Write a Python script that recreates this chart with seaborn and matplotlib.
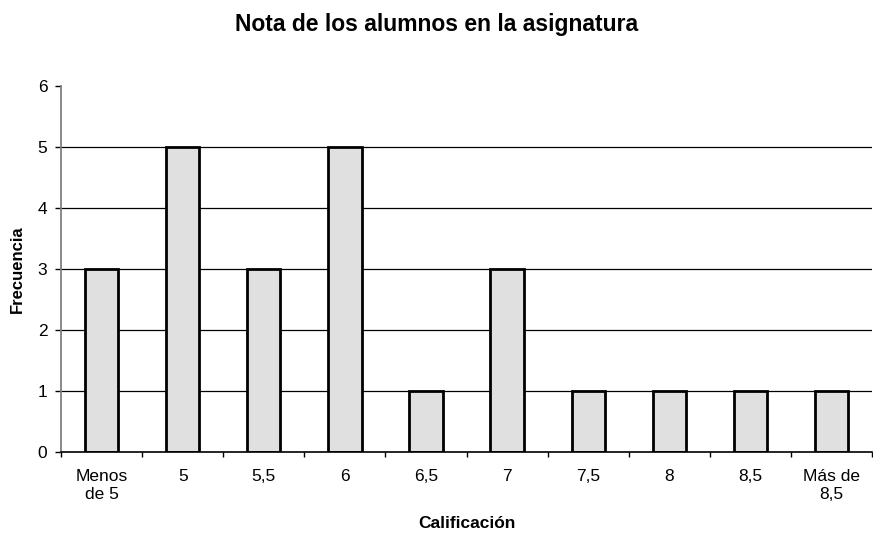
import pandas as pd
import numpy as np
import seaborn as sns
import matplotlib.pyplot as plt
import matplotlib as mpl

mpl.rcParams['font.family'] = 'sans-serif'
mpl.rcParams['font.sans-serif'] = ['Liberation Sans', 'DejaVu Sans']

categorias = ['Menos\nde 5', '5', '5,5', '6', '6,5', '7', '7,5', '8', '8,5', 'Más de\n8,5']
frecuencia = [3, 5, 3, 5, 1, 3, 1, 1, 1, 1]
yticks = [0, 1, 2, 3, 4, 5, 6]

df = pd.DataFrame({'cat': categorias, 'freq': frecuencia})

fig = plt.figure(figsize=(8.73, 5.41), dpi=100)
ax = fig.add_axes([0.0699, 0.1645, 0.9290, 0.6765])

# horizontal grid lines (none at the top)
for y in yticks[1:-1]:
    ax.axhline(y, color='black', lw=0.9, zorder=0)

sns.barplot(data=df, x='cat', y='freq', order=categorias, color='#e0e0e0',
            edgecolor='black', linewidth=2, width=0.41, saturation=1, ax=ax, zorder=2)

ax.set_ylim(0, 6)
ax.set_xlim(-0.5, len(categorias) - 0.5)
ax.set_yticks(yticks)
ax.tick_params(axis='y', length=4.3, width=1, labelsize=12.5, pad=5.5)
ax.tick_params(axis='x', which='major', length=0, labelsize=12.5, pad=12)
for lab in ax.get_xticklabels():
    lab.set_linespacing(1.3)
ax.set_xticks(np.arange(-0.5, len(categorias), 1), minor=True)
ax.tick_params(axis='x', which='minor', length=3.6, width=1, direction='out')

for s in ['top', 'right']:
    ax.spines[s].set_visible(False)
ax.spines['left'].set_color('#808080')
ax.spines['left'].set_linewidth(1.3)
ax.spines['bottom'].set_linewidth(1.2)

ax.set_xlabel('Calificación', fontsize=12.5, fontweight='bold', labelpad=10)
ax.set_ylabel('Frecuencia', fontsize=12, fontweight='bold', labelpad=9)
fig.suptitle('Nota de los alumnos en la asignatura', fontsize=16.5, fontweight='bold', y=0.976)

plt.savefig('out.png', dpi=100)
plt.close()
